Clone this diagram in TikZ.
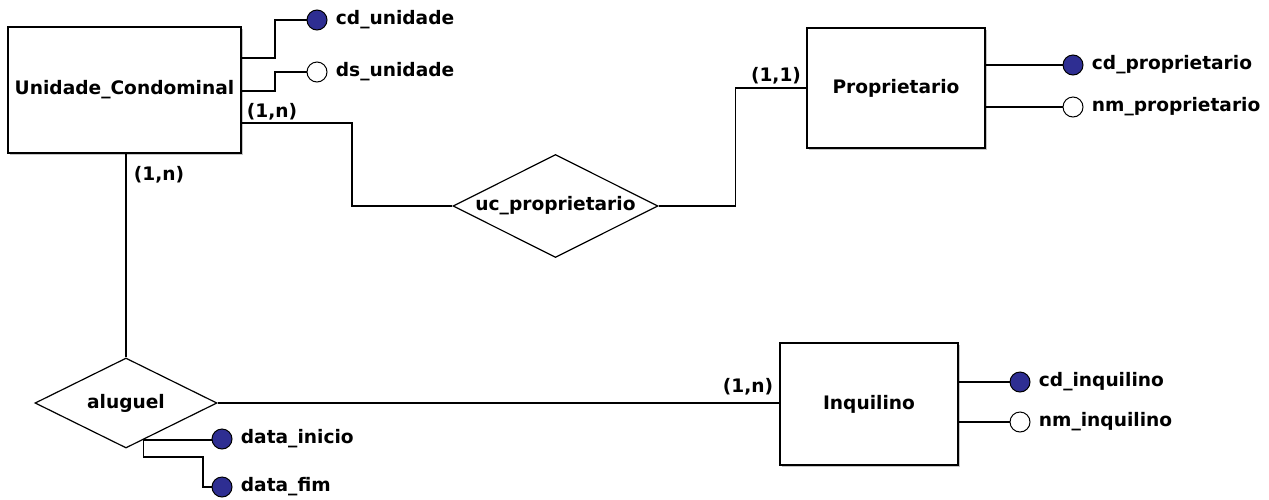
\documentclass[tikz,border=0pt]{standalone}
\usepackage{fontspec}
\setmainfont{DejaVu Sans}
\usetikzlibrary{shapes.geometric,calc,shadows}
\definecolor{keyblue}{RGB}{46,46,146}

\begin{document}
\begin{tikzpicture}[x=0.5pt,y=-0.5pt,
    font=\bfseries\fontsize{9.3}{11}\selectfont,
    entity/.style={draw,line width=1pt,fill=white,
      drop shadow={shadow xshift=1pt,shadow yshift=-1pt,fill=black!45}},
    relation/.style={diamond,draw,line width=0.6pt,fill=white,inner sep=0pt,aspect=2},
    keyattr/.style={circle,draw,line width=0.5pt,fill=keyblue,minimum size=10pt,inner sep=0pt},
    attr/.style={circle,draw,line width=0.5pt,fill=white,minimum size=10pt,inner sep=0pt},
    attrname/.style={anchor=west,inner sep=1pt,xshift=3pt},
    link/.style={line width=0.75pt}]

    \useasboundingbox (0,0) rectangle (1269,499);

    % entities
    \node[entity, minimum width=112.5pt, minimum height=63pt] (unidade) at (124.5,90) {Unidade\_Condominal};
    \node[entity, minimum width=89pt, minimum height=60pt] (proprietario) at (896,88) {Proprietario};
    \node[entity, minimum width=89pt, minimum height=61pt] (inquilino) at (869,404) {Inquilino};

    % relationships
    \node[relation, minimum width=102.5pt, minimum height=51.5pt] (ucprop) at (555.5,206) {uc\_proprietario};
    \node[relation, minimum width=91pt, minimum height=45pt] (aluguel) at (126,403) {aluguel};

    % attributes
    \node[keyattr] (cdu) at (317,20) {};
    \node[attr] (dsu) at (317,72) {};
    \node[keyattr] (cdp) at (1073,65) {};
    \node[attr] (nmp) at (1073,107) {};
    \node[keyattr] (cdi) at (1020,382) {};
    \node[attr] (nmi) at (1020,422) {};
    \node[keyattr] (dti) at (222,439) {};
    \node[keyattr] (dtf) at (222,487) {};

    \node[attrname] (cdutxt) at (cdu.east) {cd\_unidade};
    \node[attrname] (dsutxt) at (dsu.east) {ds\_unidade};
    \node[attrname] (cdptxt) at (cdp.east) {cd\_proprietario};
    \node[attrname] (nmptxt) at (nmp.east) {nm\_proprietario};
    \node[attrname] (cditxt) at (cdi.east) {cd\_inquilino};
    \node[attrname] (nmitxt) at (nmi.east) {nm\_inquilino};
    \node[attrname] (dtitxt) at (dti.east) {data\_inicio};
    \node[attrname] (dtftxt) at (dtf.east) {data\_fim};

    % cardinalities
    \node (cardun) at (272,112) {(1,n)};
    \node (cardual) at (159,175) {(1,n)};
    \node (cardprop) at (776,76) {(1,1)};
    \node (cardinq) at (748,387) {(1,n)};

    \coordinate (alugbase) at ($(aluguel.south)!0.19!(aluguel.east)$);
    \coordinate (fimbend) at (203,457);

    \draw[link] ([yshift=16pt]unidade.east) -- ++(16.5pt,0) |- (cdu);
    \draw[link] ([yshift=-0.5pt]unidade.east) -- ++(16.5pt,0) |- (dsu);
    \draw[link] ([yshift=-16.5pt]unidade.east) -- ++(55pt,0) |- (ucprop.west);
    \draw[link] (ucprop.east) -- ++(38.5pt,0) |- (proprietario.west);
    \draw[link] (aluguel.north) -- (aluguel.north |- unidade.south);
    \draw[link] (aluguel.east) -- (aluguel.east -| inquilino.west);

    \draw[link] (proprietario.east |- cdp) -- (cdp);
    \draw[link] (proprietario.east |- nmp) -- (nmp);
    \draw[link] (inquilino.east |- cdi) -- (cdi);
    \draw[link] (inquilino.east |- nmi) -- (nmi);
    \draw[link] (alugbase) -- (dti.west |- alugbase);
    \draw[link] (alugbase) |- (fimbend) |- (dtf);

\end{tikzpicture}
\end{document}
